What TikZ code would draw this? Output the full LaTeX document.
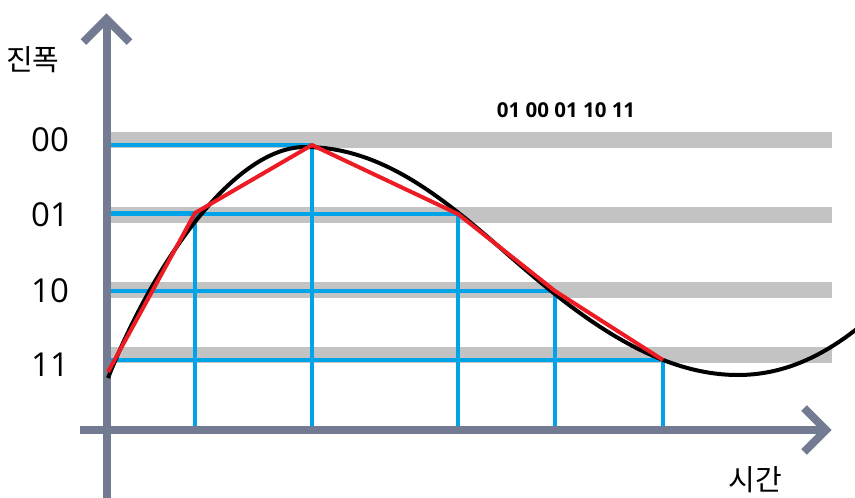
\documentclass[tikz,border=0pt]{standalone}
\usepackage{fontspec}
\setmainfont{Open Sans}
\newfontfamily\kr{Noto Sans CJK KR}
\definecolor{axisc}{RGB}{115,123,146}
\definecolor{bandc}{RGB}{195,195,195}
\definecolor{bluec}{RGB}{0,162,232}
\definecolor{redc}{RGB}{237,28,36}
\begin{document}
\begin{tikzpicture}[x=1pt,y=-1pt,
  band/.style={draw=bandc,line width=16pt},
  bline/.style={draw=bluec,line width=4pt},
  axisline/.style={draw=axisc,line width=8pt},
  chev/.style={draw=axisc,line width=8pt,line join=miter},
  lvl/.style={anchor=west,inner sep=0pt,font=\fontsize{33}{36}\selectfont},
  krl/.style={inner sep=0pt,font=\kr\fontsize{29}{32}\selectfont}]
\useasboundingbox (0,0) rectangle (855,498);
% bands
\foreach \yy in {140,215,289.5,355} \draw[band] (110,\yy) -- (832,\yy);
% sample points
\coordinate (p0) at (108,372);
\coordinate (p1) at (195,213);
\coordinate (p2) at (312,145);
\coordinate (p3) at (458,214);
\coordinate (p4) at (555,291);
\coordinate (p5) at (663,360);
\coordinate (a1) at (195,430);
\coordinate (a2) at (312,430);
\coordinate (a3) at (458,430);
\coordinate (a4) at (555,430);
\coordinate (a5) at (663,430);
\coordinate (l1) at (108,213);
\coordinate (l2) at (108,145);
\coordinate (l3) at (108,214);
\coordinate (l4) at (108,291);
\coordinate (l5) at (108,360);
\foreach \i in {1,...,5} {
  \draw[bline] (l\i) -- (p\i);
  \draw[bline] (p\i) -- (a\i);
}
% axes
\coordinate (vb) at (106.5,498);
\coordinate (vt) at (106.5,19);
\coordinate (hl) at (80,430);
\coordinate (hr) at (826,430);
\draw[axisline] (vb) -- (vt);
\draw[axisline] (hl) -- (hr);
\draw[chev] (83.5,42) -- (vt) -- (129.5,42);
\draw[chev] (804,408) -- (hr) -- (804,452);
% curve
\draw[black,line width=4pt] (108,378) .. controls (155,260) and (235,147) .. (305,147)
  .. controls (380,147) and (440,195) .. (505,252)
  .. controls (570,309) and (650,375) .. (738,375)
  .. controls (790,375) and (830,350) .. (858,328);
% red polyline
\draw[redc,line width=4pt,line join=round] (p0) -- (p1) -- (p2) -- (p3) -- (p4) -- (p5);
% labels
\node[lvl] (t00) at (31,140) {00};
\node[lvl] (t01) at (31,215) {01};
\node[lvl] (t10) at (31,290.5) {10};
\node[lvl] (t11) at (31,365) {11};
\node[krl] (ylab) at (33,60) {진폭};
\node[krl] (xlab) at (755,480) {시간};
\node[inner sep=0pt,font=\bfseries\fontsize{20.5}{24}\selectfont] (code) at (566,110) {01 00 01 10 11};
\end{tikzpicture}
\end{document}
